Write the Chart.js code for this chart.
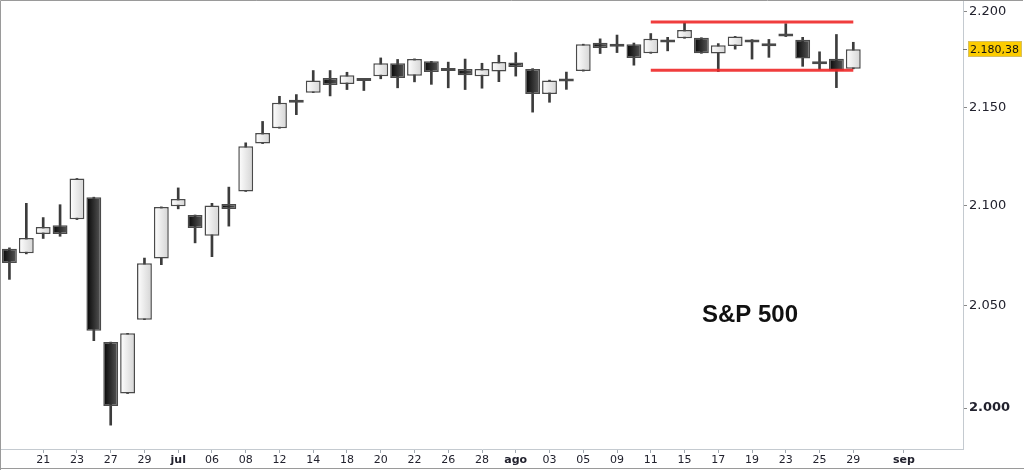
<!DOCTYPE html>
<html>
<head>
<meta charset="utf-8">
<script src="https://cdn.jsdelivr.net/npm/chart.js@4"></script>
<style>
  html, body { margin: 0; padding: 0; background: #fff; }
  #wrap { width: 1024px; height: 471px; }
</style>
</head>
<body>
<div id="wrap"><canvas id="myChart" width="1024" height="471"></canvas></div>
<script>
// trading days (plus a few empty slots at the right)
const days = [
  "2016-06-17", "2016-06-20", "2016-06-21", "2016-06-22", "2016-06-23", "2016-06-24",
  "2016-06-27", "2016-06-28", "2016-06-29", "2016-06-30", "2016-07-01", "2016-07-05",
  "2016-07-06", "2016-07-07", "2016-07-08", "2016-07-11", "2016-07-12", "2016-07-13",
  "2016-07-14", "2016-07-15", "2016-07-18", "2016-07-19", "2016-07-20", "2016-07-21",
  "2016-07-22", "2016-07-25", "2016-07-26", "2016-07-27", "2016-07-28", "2016-07-29",
  "2016-08-01", "2016-08-02", "2016-08-03", "2016-08-04", "2016-08-05", "2016-08-08",
  "2016-08-09", "2016-08-10", "2016-08-11", "2016-08-12", "2016-08-15", "2016-08-16",
  "2016-08-17", "2016-08-18", "2016-08-19", "2016-08-22", "2016-08-23", "2016-08-24",
  "2016-08-25", "2016-08-26", "2016-08-29",
  "2016-08-30", "2016-08-31", "2016-09-01", "2016-09-02", "2016-09-06", "2016-09-07",
];

const opens = [
  2078.2, 2075.9, 2085.5, 2090.0, 2092.9, 2104.1, 2032.0, 2007.0, 2043.0, 2073.3,
  2099.5, 2095.1, 2084.7, 2100.6, 2107.0, 2131.4, 2139.3, 2154.0, 2157.7, 2165.3,
  2162.2, 2164.0, 2166.2, 2173.0, 2166.5, 2174.0, 2169.0, 2170.0, 2166.2, 2168.7,
  2173.4, 2170.0, 2157.0, 2163.5, 2168.9, 2183.8, 2182.0, 2183.0, 2178.2, 2183.9,
  2186.1, 2186.4, 2178.1, 2182.0, 2184.4, 2181.9, 2188.1, 2185.3, 2173.4, 2175.3,
  2170.1,
];
const highs = [
  2078.6, 2101.0, 2093.8, 2100.3, 2113.6, 2104.1, 2032.0, 2036.3, 2073.5, 2099.2,
  2108.8, 2095.1, 2101.0, 2109.2, 2131.8, 2142.8, 2155.8, 2156.7, 2169.2, 2169.2,
  2168.3, 2164.6, 2175.8, 2175.0, 2175.3, 2174.0, 2173.6, 2175.2, 2173.0, 2177.2,
  2178.6, 2170.2, 2164.2, 2168.4, 2183.0, 2185.8, 2187.8, 2183.6, 2188.6, 2186.6,
  2194.2, 2186.4, 2183.3, 2187.1, 2185.4, 2185.5, 2193.8, 2186.6, 2179.0, 2188.1,
  2184.0,
];
const lows = [
  2062.9, 2075.6, 2083.3, 2084.4, 2092.8, 2032.7, 1991.8, 2007.0, 2043.0, 2070.2,
  2098.2, 2081.1, 2074.2, 2089.5, 2107.0, 2131.4, 2139.3, 2146.3, 2157.7, 2156.0,
  2159.3, 2158.8, 2164.9, 2160.2, 2163.3, 2162.0, 2160.2, 2159.3, 2160.0, 2163.4,
  2166.3, 2147.6, 2152.7, 2159.4, 2168.9, 2178.1, 2178.6, 2172.0, 2178.2, 2179.5,
  2186.1, 2178.2, 2168.7, 2180.4, 2175.2, 2176.1, 2187.0, 2171.4, 2169.8, 2160.3,
  2170.1,
];
const closes = [
  2071.0, 2083.5, 2089.0, 2085.6, 2113.6, 2037.5, 2001.0, 2036.3, 2070.9, 2099.1,
  2103.2, 2088.6, 2099.9, 2098.1, 2130.0, 2136.8, 2152.4, 2152.4, 2164.0, 2161.7,
  2166.8, 2163.7, 2173.0, 2165.3, 2175.2, 2168.5, 2169.3, 2166.8, 2170.0, 2173.7,
  2171.0, 2157.0, 2164.0, 2164.6, 2183.0, 2181.0, 2181.6, 2175.8, 2185.8, 2184.1,
  2190.4, 2178.3, 2182.4, 2187.1, 2183.9, 2182.9, 2187.1, 2175.5, 2172.5, 2169.1,
  2180.38,
];

// labels shown under the x axis ("" = no label)
const tickLabels = [
  "", "", "21", "", "23", "", "27", "", "29", "", "jul", "", "06", "", "08", "", "12", "",
  "14", "", "18", "", "20", "", "22", "", "26", "", "28", "", "ago", "", "03", "", "05", "",
  "09", "", "11", "", "15", "", "17", "", "19", "", "23", "", "25", "", "29", "", "", "sep",
  "", "", "",
];
const monthLabels = ["jul", "ago", "sep"];

const yTicks = [2000, 2050, 2100, 2150, 2200];

// lateral range drawn in red
const resistance = 2194.7;
const support = 2169.4;
const rangeFrom = "2016-08-11";
const rangeTo = "2016-08-29";

const lastIdx = closes.length - 1;

function fmtThousands(v, dec) {
  const parts = v.toFixed(dec).split(".");
  const intPart = parts[0].replace(/\B(?=(\d{3})+(?!\d))/g, ".");
  return dec ? intPart + "," + parts[1] : intPart;
}

function bodyFill(ctx) {
  const i = ctx.dataIndex;
  const up = closes[i] >= opens[i];
  const chart = ctx.chart;
  const xs = chart.scales && chart.scales.x;
  if (!chart.chartArea || !xs || opens[i] == null) return up ? "#f2f2f2" : "#1c1c1c";
  const cx = xs.getPixelForValue(i);
  const half = (xs.width / days.length) * 0.44;
  const g = chart.ctx.createLinearGradient(cx - half, 0, cx + half, 0);
  if (up) {
    g.addColorStop(0, "#ffffff");
    g.addColorStop(1, "#d4d4d4");
  } else {
    g.addColorStop(0, "#050505");
    g.addColorStop(1, "#585858");
  }
  return g;
}

const overlay = {
  id: "overlay",
  afterDraw(chart) {
    const c = chart.ctx;
    const y = Math.round(chart.scales.y.getPixelForValue(closes[lastIdx]));
    const right = chart.chartArea.right;
    c.save();
    // tick for the last price
    c.strokeStyle = "#777";
    c.lineWidth = 1;
    c.beginPath();
    c.moveTo(right, y + 0.5);
    c.lineTo(right + 4, y + 0.5);
    c.stroke();
    // yellow price box
    c.fillStyle = "#fccc00";
    c.fillRect(right + 5, y - 8, 54, 16);
    c.strokeStyle = "#d8c060";
    c.strokeRect(right + 5.5, y - 7.5, 53, 15);
    c.fillStyle = "#111";
    c.font = "11px 'DejaVu Sans'";
    c.textBaseline = "middle";
    c.fillText(fmtThousands(closes[lastIdx], 2), right + 7, y + 1);
    // title
    c.font = "bold 24px 'Liberation Sans', Arial";
    c.textAlign = "center";
    c.fillStyle = "#111";
    c.fillText("S&P 500", 750, 315);
    // outer frame
    c.strokeStyle = "#9a9a9a";
    c.lineWidth = 1;
    c.beginPath();
    c.moveTo(0.5, 470);
    c.lineTo(0.5, 0.5);
    c.lineTo(1023, 0.5);
    c.moveTo(0, 468.5);
    c.lineTo(1024, 468.5);
    c.stroke();
    c.restore();
  },
};

const ctx = document.getElementById("myChart").getContext("2d");
new Chart(ctx, {
  type: "bar",
  data: {
    labels: days,
    datasets: [
      {
        type: "line",
        label: "resistencia",
        data: days.map((d) => (d >= rangeFrom && d <= rangeTo ? resistance : null)),
        borderColor: "rgba(238, 40, 40, 0.9)",
        borderWidth: 3,
        pointRadius: 0,
        spanGaps: true,
        order: -1,
      },
      {
        type: "line",
        label: "soporte",
        data: days.map((d) => (d >= rangeFrom && d <= rangeTo ? support : null)),
        borderColor: "rgba(238, 40, 40, 0.9)",
        borderWidth: 3,
        pointRadius: 0,
        spanGaps: true,
        order: -1,
      },
      {
        label: "cuerpo",
        data: days.map((d, i) => (opens[i] == null ? null : [opens[i], closes[i]])),
        backgroundColor: bodyFill,
        borderColor: "#4a4a4a",
        borderWidth: 1.5,
        borderSkipped: false,
        minBarLength: 3,
        grouped: false,
        categoryPercentage: 1,
        barPercentage: 0.88,
        order: 0,
      },
      {
        label: "mecha",
        data: days.map((d, i) => (highs[i] == null ? null : [lows[i], highs[i]])),
        backgroundColor: "#3c3c3c",
        borderWidth: 0,
        barThickness: 2,
        grouped: false,
        order: 1,
      },
    ],
  },
  options: {
    responsive: false,
    animation: false,
    devicePixelRatio: 1,
    layout: { padding: { left: 1, top: 1, right: 0, bottom: 0 } },
    plugins: {
      legend: { display: false },
      tooltip: { enabled: false },
    },
    scales: {
      x: {
        type: "category",
        offset: true,
        afterFit: (s) => {
          s.height = 22;
          s.paddingLeft = 0;
          s.paddingRight = 0;
        },
        ticks: {
          autoSkip: false,
          maxRotation: 0,
          padding: 1,
          color: "#22222e",
          callback: (v, i) => tickLabels[i],
          font: (c) => ({
            family: "'DejaVu Sans'",
            size: 11,
            weight: monthLabels.includes(tickLabels[c.index]) ? "bold" : "normal",
          }),
        },
        grid: {
          offset: false,
          drawOnChartArea: false,
          tickLength: 4,
          color: (c) => (tickLabels[c.index] ? "#a0a8b0" : "rgba(0,0,0,0)"),
        },
        border: { color: "#c4cad0" },
      },
      y: {
        type: "logarithmic",
        position: "right",
        bounds: "data",
        min: 1980.4,
        max: 2205.8,
        afterBuildTicks: (s) => { s.ticks = yTicks.map((v) => ({ value: v })); },
        afterFit: (s) => {
          s.width = 61;
          s.paddingTop = 0;
          s.paddingBottom = 0;
        },
        ticks: {
          padding: 2,
          color: "#22222e",
          callback: (v) => fmtThousands(v, 0),
          font: (c) => ({
            family: "'DejaVu Sans'",
            size: 13,
            weight: c.tick && c.tick.value === 2000 ? "bold" : "normal",
          }),
        },
        grid: { drawOnChartArea: false, tickLength: 4, color: "#888" },
        border: { color: "#c4cad0" },
      },
    },
  },
  plugins: [overlay],
});
</script>
</body>
</html>
